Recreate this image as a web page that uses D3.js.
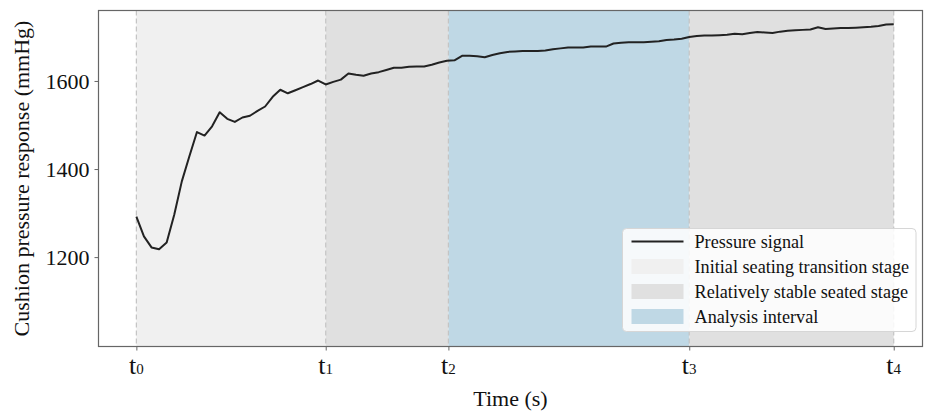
<!DOCTYPE html>
<html>
<head>
<meta charset="utf-8">
<script src="https://cdn.jsdelivr.net/npm/d3@7"></script>
<style>
  body { margin: 0; background: #fff; }
  svg { display: block; font-family: "Liberation Serif", "Times New Roman", serif; }
</style>
</head>
<body>
<script>
// pressure samples, one per time step
const PRESSURE = [
  1292, 1247, 1222, 1218, 1233, 1296, 1372, 1429, 1484, 1476,
  1497, 1529, 1514, 1507, 1517, 1521, 1532, 1542, 1564, 1580,
  1572, 1579, 1586, 1593, 1601, 1592, 1598, 1603, 1617, 1614,
  1612, 1617, 1620, 1625, 1630, 1630, 1632, 1633, 1633, 1637,
  1642, 1646, 1647, 1657, 1657, 1656, 1654, 1659, 1663, 1666,
  1667, 1668, 1668, 1668, 1669, 1672, 1674, 1676, 1676, 1676,
  1678, 1678, 1678, 1685, 1687, 1688, 1688, 1688, 1689, 1690,
  1693, 1694, 1696, 1700, 1702, 1703, 1703, 1704, 1705, 1707,
  1706, 1709, 1711, 1710, 1709, 1712, 1714, 1715, 1716, 1717,
  1722, 1718, 1719, 1720, 1720, 1721, 1722, 1723, 1725, 1728,
  1729
];
const TIME = PRESSURE.map((d, i) => i);

const T_MARKS = [0, 25, 41.2, 73, 100];
const T_LABELS = ['0', '1', '2', '3', '4'];
const Y_TICKS = [1200, 1400, 1600];

const STAGES = [
  {from: 0, to: 1, color: '#f0f0f0'},
  {from: 1, to: 2, color: '#e0e0e0'},
  {from: 2, to: 3, color: '#bfd8e5'},
  {from: 3, to: 4, color: '#e0e0e0'}
];

const LEGEND_ITEMS = [
  {label: 'Pressure signal', type: 'line', color: '#222'},
  {label: 'Initial seating transition stage', type: 'rect', color: '#f0f0f0'},
  {label: 'Relatively stable seated stage', type: 'rect', color: '#e0e0e0'},
  {label: 'Analysis interval', type: 'rect', color: '#bfd8e5'}
];

const W = 934, H = 419;
const PLOT = {LEFT: 98.5, RIGHT: 922.5, TOP: 10.5, BOTTOM: 346.5};

const svg = d3.select('body').append('svg')
    .attr('width', W)
    .attr('height', H);

const x = d3.scaleLinear().domain([-5, 103.8]).range([PLOT.LEFT, PLOT.RIGHT]);
const y = d3.scaleLinear().domain([997, 1760]).range([PLOT.BOTTOM, PLOT.TOP]);

// stage shading
svg.append('g').selectAll('rect')
    .data(STAGES)
    .enter()
    .append('rect')
    .attr('x', d => x(T_MARKS[d.from]))
    .attr('width', d => x(T_MARKS[d.to]) - x(T_MARKS[d.from]))
    .attr('y', PLOT.TOP)
    .attr('height', PLOT.BOTTOM - PLOT.TOP)
    .attr('fill', d => d.color);

// dashed boundaries
svg.append('g').selectAll('line')
    .data(T_MARKS)
    .enter()
    .append('line')
    .attr('x1', d => x(d)).attr('x2', d => x(d))
    .attr('y1', PLOT.TOP).attr('y2', PLOT.BOTTOM)
    .attr('stroke', '#c4c4c4')
    .attr('stroke-width', 1.2)
    .attr('stroke-dasharray', '5,3');

// signal
const line = d3.line()
    .x((d, i) => x(TIME[i]))
    .y(d => y(d));

svg.append('path')
    .datum(PRESSURE)
    .attr('d', line)
    .attr('fill', 'none')
    .attr('stroke', '#222')
    .attr('stroke-width', 2)
    .attr('stroke-linejoin', 'round');

// frame
svg.append('rect')
    .attr('x', PLOT.LEFT).attr('y', PLOT.TOP)
    .attr('width', PLOT.RIGHT - PLOT.LEFT)
    .attr('height', PLOT.BOTTOM - PLOT.TOP)
    .attr('fill', 'none')
    .attr('stroke', '#666')
    .attr('stroke-width', 1.2);

// y axis
const yAxis = svg.append('g')
    .attr('transform', 'translate(' + PLOT.LEFT + ',0)')
    .call(d3.axisLeft(y).tickValues(Y_TICKS).tickSize(4).tickPadding(5).tickFormat(d3.format('d')));
yAxis.select('.domain').remove();
yAxis.selectAll('line').attr('stroke', '#666');
yAxis.selectAll('text')
    .attr('font-size', 22)
    .attr('font-family', '"Liberation Serif", serif')
    .attr('fill', '#111');

// x axis
const xAxis = svg.append('g')
    .attr('transform', 'translate(0,' + PLOT.BOTTOM + ')')
    .call(d3.axisBottom(x).tickValues(T_MARKS).tickSize(4).tickFormat(''));
xAxis.select('.domain').remove();
xAxis.selectAll('line').attr('stroke', '#666');

const tl = svg.append('g').selectAll('text')
    .data(T_MARKS)
    .enter()
    .append('text')
    .attr('x', d => x(d))
    .attr('y', 374)
    .attr('text-anchor', 'middle')
    .attr('fill', '#111');
tl.append('tspan').attr('font-size', 26).text('t');
tl.append('tspan').attr('font-size', 15).text((d, i) => T_LABELS[i]);

// axis titles
svg.append('text')
    .attr('x', (PLOT.LEFT + PLOT.RIGHT) / 2)
    .attr('y', 406)
    .attr('text-anchor', 'middle')
    .attr('font-size', 22)
    .attr('fill', '#111')
    .text('Time (s)');

svg.append('text')
    .attr('transform', 'translate(29,' + ((PLOT.TOP + PLOT.BOTTOM) / 2) + ') rotate(-90)')
    .attr('text-anchor', 'middle')
    .attr('font-size', 22)
    .attr('fill', '#111')
    .text('Cushion pressure response (mmHg)');

// legend
const legend = svg.append('g').attr('transform', 'translate(622.5,228.5)');
legend.append('rect')
    .attr('width', 293.5)
    .attr('height', 103)
    .attr('rx', 4)
    .attr('fill', 'rgba(255,255,255,0.85)')
    .attr('stroke', '#d6d6d6');

const items = legend.selectAll('g.item')
    .data(LEGEND_ITEMS)
    .enter()
    .append('g')
    .attr('class', 'item')
    .attr('transform', (d, i) => 'translate(9,' + (13 + i * 25) + ')');

items.filter(d => d.type === 'line').append('line')
    .attr('x1', 0).attr('x2', 52)
    .attr('stroke', d => d.color)
    .attr('stroke-width', 2);

items.filter(d => d.type === 'rect').append('rect')
    .attr('x', 0).attr('y', -7.5)
    .attr('width', 52).attr('height', 15)
    .attr('fill', d => d.color);

items.append('text')
    .attr('x', 63)
    .attr('y', 6)
    .attr('font-size', 18.2)
    .attr('fill', '#111')
    .text(d => d.label);
</script>
</body>
</html>
